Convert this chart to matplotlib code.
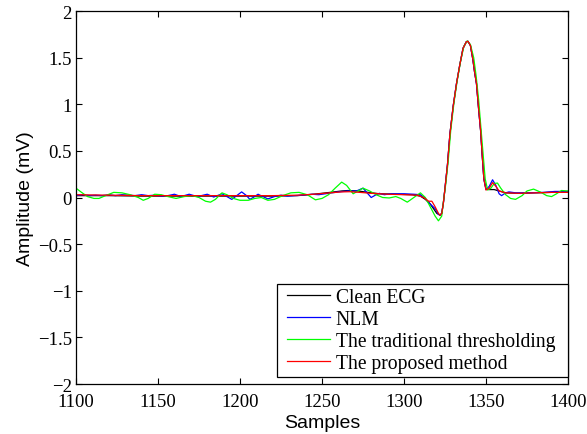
import matplotlib
matplotlib.use("Agg")
import matplotlib.pyplot as plt
from matplotlib.lines import Line2D
from matplotlib.legend_handler import HandlerLine2D

# ---------------- data ----------------
clean_x = [1100, 1120, 1140, 1160, 1180, 1200, 1220, 1235, 1245, 1255, 1262, 1266, 1272, 1278,
           1285, 1295, 1305, 1310, 1313, 1316, 1318, 1320, 1322, 1323, 1324, 1325, 1326.5, 1328,
           1330, 1332, 1334, 1336, 1338, 1339, 1340.5, 1342, 1343, 1344.2, 1345.5, 1346.7, 1347.7,
           1348.7, 1350, 1352, 1355, 1358, 1362, 1370, 1380, 1390, 1400]
clean_y = [0.02, 0.02, 0.015, 0.015, 0.015, 0.015, 0.015, 0.02, 0.035, 0.055, 0.07, 0.075, 0.07, 0.055,
           0.04, 0.035, 0.03, 0.015, -0.02, -0.07, -0.12, -0.17, -0.19, -0.17, -0.06, 0.1, 0.35, 0.68,
           0.98, 1.22, 1.42, 1.6, 1.67, 1.675, 1.63, 1.48, 1.35, 1.22, 0.95, 0.72, 0.45,
           0.2, 0.09, 0.085, 0.085, 0.07, 0.05, 0.045, 0.05, 0.055, 0.06]

nlm_x = [1100, 1104, 1108, 1112, 1116, 1120, 1124, 1128, 1132, 1136, 1140, 1144, 1148, 1152, 1156,
         1160, 1164, 1169, 1174, 1180, 1184, 1189, 1195, 1198, 1201, 1204, 1206, 1208, 1211, 1214,
         1217, 1221, 1225, 1229, 1233, 1238, 1244, 1248, 1254, 1260, 1266, 1271, 1275, 1278, 1280,
         1283, 1285, 1288, 1292, 1300, 1306, 1310, 1313, 1316, 1319, 1321, 1322, 1323, 1324, 1325,
         1326.5, 1328, 1330, 1332, 1334, 1336, 1338, 1339, 1340.5, 1342, 1343, 1344.2, 1345.5,
         1346.7, 1347.7, 1348.7, 1350, 1352, 1354, 1356, 1358, 1359.5, 1362, 1364, 1368, 1375,
         1385, 1392, 1400]
nlm_y = [0.02, 0.03, 0.02, 0.025, 0.02, 0.03, 0.02, 0.03, 0.025, 0.02, 0.03, 0.02, 0.025, 0.015, 0.02,
         0.035, 0.01, 0.035, 0.01, 0.035, 0.005, 0.04, -0.02, 0.02, 0.06, 0.02, -0.02, 0.0, 0.035, 0.01,
         -0.015, 0.01, 0.025, 0.015, 0.02, 0.025, 0.035, 0.03, 0.045, 0.06, 0.07, 0.07, 0.1, 0.04, 0.0,
         0.03, 0.045, 0.03, 0.04, 0.04, 0.035, 0.03, -0.01, -0.07, -0.12, -0.18, -0.19, -0.17, -0.06, 0.1,
         0.35, 0.68, 0.98, 1.22, 1.42, 1.6, 1.67, 1.675, 1.63, 1.48, 1.35, 1.22, 0.95,
         0.72, 0.45, 0.2, 0.085, 0.12, 0.19, 0.13, 0.04, 0.02, 0.05, 0.06, 0.05, 0.05,
         0.055, 0.065, 0.065]

thr_x = [1100, 1103, 1107, 1111, 1114, 1118, 1123, 1128, 1133, 1138, 1141, 1144, 1148, 1152, 1156,
         1161, 1166, 1171, 1175, 1179, 1182, 1185, 1189, 1192, 1196, 1200, 1205, 1209, 1213, 1217,
         1221, 1226, 1231, 1236, 1241, 1246, 1250, 1254, 1258, 1262, 1265, 1269, 1272, 1275, 1279,
         1283, 1287, 1291, 1295, 1298, 1302, 1306, 1310, 1313, 1316, 1319, 1321, 1323, 1324, 1325.5,
         1327, 1328.5, 1330.5, 1332.5, 1334.5, 1336.5, 1338.5, 1340.5, 1342.5, 1344, 1345.5, 1347.5,
         1349.5, 1351, 1353, 1355, 1357, 1359, 1362, 1365, 1368, 1372, 1375, 1379, 1383, 1387, 1390,
         1393, 1396, 1400]
thr_y = [0.1, 0.06, 0.01, -0.01, -0.01, 0.02, 0.055, 0.05, 0.03, 0.0, -0.03, -0.01, 0.035, 0.03, 0.01,
         -0.01, 0.01, 0.02, 0.0, -0.04, -0.05, -0.02, 0.05, 0.03, -0.01, -0.03, -0.03, -0.01, 0.0, -0.03,
         -0.02, 0.02, 0.05, 0.055, 0.03, -0.025, -0.01, 0.03, 0.1, 0.165, 0.13, 0.04, 0.07, 0.1, 0.07,
         0.03, 0.0, -0.005, 0.01, -0.01, -0.05, 0.0, 0.05, 0.0, -0.1, -0.2, -0.25, -0.2, -0.05, 0.15,
         0.4, 0.72, 1.02, 1.26, 1.46, 1.62, 1.68, 1.64, 1.5, 1.3, 1.05, 0.62,
         0.2, 0.08, 0.1, 0.15, 0.155, 0.1, 0.03, -0.01, -0.02, 0.02, 0.07, 0.09, 0.06, 0.02, 0.01,
         0.04, 0.075, 0.07]

prop_x = [1100, 1120, 1140, 1160, 1180, 1200, 1220, 1235, 1245, 1255, 1262, 1267, 1273, 1280, 1290,
          1300, 1308, 1312, 1315, 1317, 1319, 1321, 1322, 1323, 1324, 1325, 1326.5, 1328, 1330, 1332,
          1334, 1336, 1338, 1339, 1340.5, 1342, 1343, 1344.2, 1345.5, 1346.7, 1347.7, 1348.7, 1350,
          1352, 1354, 1356, 1358, 1362, 1370, 1380, 1390, 1400]
prop_y = [0.03, 0.025, 0.02, 0.02, 0.02, 0.02, 0.02, 0.025, 0.035, 0.05, 0.06, 0.062, 0.055, 0.045, 0.035,
          0.03, 0.025, 0.0, -0.04, -0.04, -0.1, -0.17, -0.19, -0.17, -0.06, 0.1, 0.35, 0.68, 0.98, 1.22,
          1.42, 1.6, 1.67, 1.675, 1.63, 1.48, 1.35, 1.22, 0.95, 0.72, 0.45, 0.2, 0.08,
          0.1, 0.16, 0.12, 0.07, 0.05, 0.045, 0.05, 0.055, 0.055]

series_labels = ["Clean ECG", "NLM", "The traditional thresholding", "The proposed method"]
x_ticks = [1100, 1150, 1200, 1250, 1300, 1350, 1400]
y_ticks = [-2, -1.5, -1, -0.5, 0, 0.5, 1, 1.5, 2]

# ---------------- plot ----------------
fig = plt.figure(figsize=(5.87, 4.35), dpi=100)
ax = fig.add_axes([76 / 587, 1 - 385 / 435, (568 - 76) / 587, (385 - 12) / 435])

lw = 0.9
ax.plot(clean_x, clean_y, color="black", lw=lw, label=series_labels[0])
ax.plot(nlm_x, nlm_y, color=(0, 0, 1), lw=lw, label=series_labels[1])
ax.plot(thr_x, thr_y, color=(0, 1, 0), lw=lw, label=series_labels[2])
ax.plot(prop_x, prop_y, color=(1, 0, 0), lw=lw, label=series_labels[3])

ax.set_xlim(1100, 1400)
ax.set_ylim(-2, 2)
ax.set_xticks(x_ticks)
ax.set_yticks(y_ticks)
ax.set_xticklabels([str(v) for v in x_ticks])
ax.set_yticklabels([("\u2212" if v < 0 else "") + ("%g" % abs(v)) for v in y_ticks])

for lab in ax.get_xticklabels() + ax.get_yticklabels():
    lab.set_fontfamily("Liberation Serif")
    lab.set_fontsize(13.5)

ax.tick_params(direction="in", length=4, width=0.8, top=True, right=True)
ax.tick_params(axis="x", pad=6.5)
ax.tick_params(axis="y", pad=3)
for sp in ax.spines.values():
    sp.set_linewidth(0.9)

ax.set_xlabel("Samples", family="Liberation Sans", fontsize=14, labelpad=3)
ax.set_ylabel("Amplitude (mV)", family="Liberation Sans", fontsize=14, labelpad=3)

leg = ax.legend(loc="lower left", bbox_to_anchor=((277 - 76) / 492, 7 / 373, (568 - 277) / 492, 0.3),
                mode="expand",
                prop={"family": "Liberation Serif", "size": 14.1},
                frameon=True, fancybox=False, edgecolor="black", framealpha=1,
                handlelength=2.5, handletextpad=0.3, labelspacing=0.16, borderpad=0.2,
                borderaxespad=0.0, handler_map={Line2D: HandlerLine2D(xpad=0.3)})
leg.get_frame().set_linewidth(0.9)

fig.savefig("out.png", dpi=100)
